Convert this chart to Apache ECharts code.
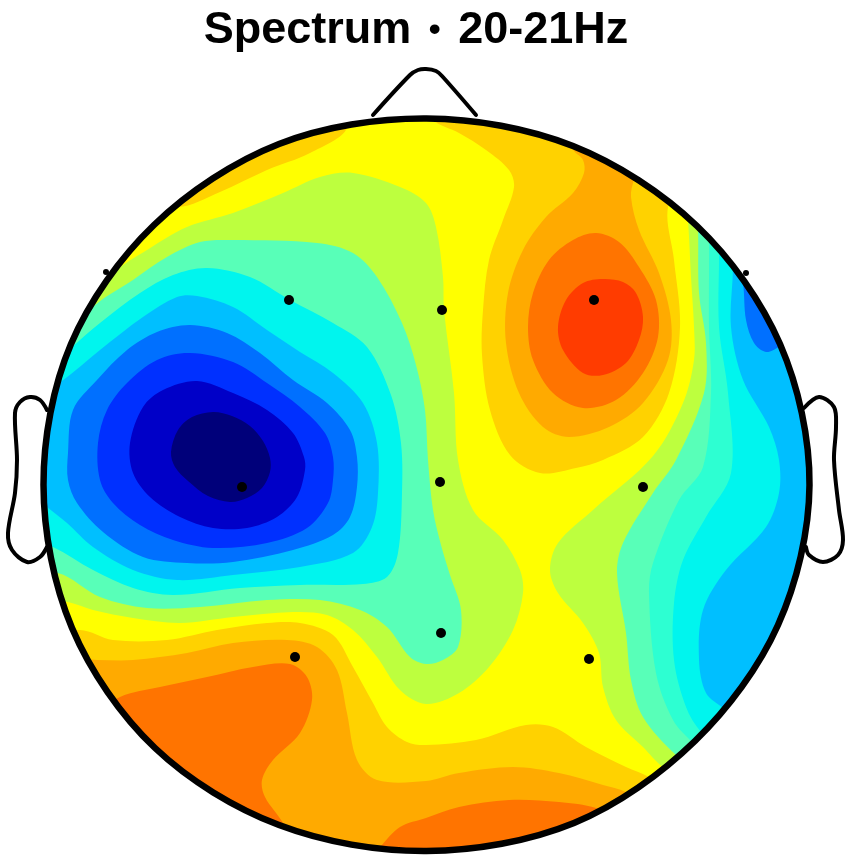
<!DOCTYPE html>
<html><head><meta charset="utf-8">
<style>html,body{margin:0;padding:0;background:#fff}#c{width:851px;height:864px}</style>
<script src="https://cdn.jsdelivr.net/npm/echarts@6/dist/echarts.min.js"></script>
</head><body><div id="c"></div>
<script>
const titleText = '{a|Spectrum }{b|•}{a| 20-21Hz}';
const headOutline = [[426.5,118.5],[573,146],[697,226],[780,344],[809.5,485],[778,625],[695,741],[574,823],[426.5,851],[279,825],[155,748],[72,628],[43.5,485],[71,344],[154,225],[279,144]];

const levelColors = {
  navy:'#00007a', deep:'#0000c8', royal:'#0030ff', azure:'#0070ff', sky:'#00bfff', cyan:'#00f5ee',
  turquoise:'#2dffd2', aqua:'#58ffb8', lime:'#bdff3e', yellow:'#ffff00', gold:'#ffd200', amber:'#ffaa00', orange:'#ff7400', red:'#ff3c00'
};

// contour outlines
const limeLeft = [[353,173],[320,177],[283,193],[233,213],[187,227],[147,250],[113,273],[70,320],[20,450],[40,600],[68,602],[93,610],[133,618],[180,623],[233,617],[293,612],[327,615],[353,630],[377,657],[400,690],[426,704],[459,693],[489,667],[513,630],[523,593],[520,570],[503,540],[473,510],[458,460],[454,393],[444,310],[443,277],[436,227],[426,203],[400,187]];
const limeRight = [[685,190],[688,220],[691,277],[694,327],[694,360],[683,403],[653,456],[593,510],[558,543],[550,570],[558,593],[583,623],[599,653],[603,687],[616,720],[643,747],[663,767],[720,800],[860,500],[800,200]];
const aquaLeft = [[233,240],[200,242],[167,257],[133,280],[90,310],[40,380],[30,580],[58,573],[100,597],[147,608],[200,607],[267,600],[320,600],[360,610],[387,627],[410,657],[426,664],[443,660],[458,647],[461,610],[450,575],[441,545],[433,510],[428,460],[425,410],[416,365],[402,323],[377,277],[353,253],[317,243]];
const aquaRight = [[696,200],[698,227],[699,293],[706,343],[704,393],[676,460],[653,493],[623,543],[617,573],[626,633],[631,680],[643,717],[676,755],[720,790],[860,500],[800,210]];
const turquoiseRight = [[708,210],[709,237],[709,327],[711,393],[703,467],[679,500],[653,563],[649,593],[656,673],[673,720],[693,743],[730,780],[860,500],[800,220]];
const cyanLeft = [[207,268],[173,275],[140,293],[100,323],[72,347],[35,380],[20,450],[30,540],[53,547],[93,570],[133,588],[173,595],[240,588],[300,585],[363,584],[387,577],[398,553],[402,493],[401,443],[391,395],[367,347],[333,323],[290,300],[250,277]];
const cyanRight = [[718,225],[719,253],[719,327],[728,393],[731,473],[706,517],[683,560],[674,603],[674,660],[686,707],[701,732],[740,770],[860,500],[800,240]];
const skyLeft = [[197,296],[177,297],[143,317],[100,350],[62,381],[30,400],[25,490],[47,507],[67,523],[93,547],[133,570],[177,580],[233,575],[300,567],[353,553],[372,527],[378,493],[377,443],[363,403],[333,373],[300,352],[267,330],[233,307]];
const skyRight = [[732,240],[733,268],[731,327],[743,380],[769,427],[779,460],[779,493],[766,527],[726,570],[703,610],[699,660],[706,693],[723,708],[760,740],[860,500],[800,260]];
const azureLeft = [[190,325],[157,332],[127,350],[97,380],[73,410],[68,453],[68,480],[77,503],[103,532],[143,557],[187,563],[233,562],[293,550],[333,535],[350,517],[357,487],[357,457],[350,430],[327,403],[293,380],[260,353],[227,333]];
const azureRight = [[738,265],[743,283],[746,320],[754,343],[766,352],[779,347],[800,335],[770,265]];
const royal = [[190,353],[157,360],[127,383],[107,410],[98,443],[100,480],[113,503],[140,525],[173,540],[213,548],[267,543],[307,528],[328,503],[333,480],[333,457],[325,433],[300,407],[267,383],[233,362]];
const deep = [[197,381],[163,390],[143,407],[130,443],[133,473],[150,497],[180,517],[213,528],[247,528],[277,517],[297,497],[305,470],[304,457],[293,433],[267,410],[233,393]];
const navy = [[171,452],[178,430],[192,417],[213,412],[232,416],[250,426],[263,441],[270,458],[270,472],[262,488],[247,498],[230,502],[208,496],[188,481],[175,467]];
const goldTopLeft = [[177,207],[220,192],[267,170],[310,153],[347,128],[330,100],[230,130],[150,190]];
const goldRight = [[433,120],[459,133],[486,150],[509,170],[514,187],[503,220],[489,260],[483,310],[482,355],[490,410],[510,455],[540,473],[576,468],[603,460],[643,437],[669,393],[680,327],[674,260],[668,207],[690,170],[600,100],[500,90],[425,100]];
const amberRight = [[573,148],[583,160],[584,173],[573,193],[546,217],[523,250],[508,293],[506,343],[519,393],[543,427],[569,437],[609,427],[643,403],[668,360],[671,320],[659,273],[639,230],[631,197],[634,180],[650,140],[590,120]];
const orangeRight = [[596,233],[573,240],[549,260],[533,293],[528,327],[533,360],[553,393],[583,408],[616,400],[643,373],[658,337],[656,300],[639,267],[619,242]];
const redRight = [[603,279],[583,283],[566,300],[558,327],[563,350],[583,373],[603,375],[626,363],[639,340],[643,317],[636,293],[623,282]];
const goldBottom = [[80,630],[113,640],[167,640],[217,630],[267,623],[300,623],[333,635],[353,667],[373,703],[387,727],[407,742],[426,745],[476,740],[526,725],[553,727],[586,747],[626,767],[649,777],[680,800],[600,890],[426,900],[150,830],[40,640]];
const amberBottom = [[97,660],[133,660],[187,653],[233,643],[287,640],[317,647],[337,670],[347,713],[357,760],[377,780],[426,781],[459,773],[513,767],[559,773],[603,785],[626,792],[660,810],[600,890],[400,900],[150,830],[70,660]];
const orangeLeft = [[120,697],[160,687],[207,677],[253,667],[290,664],[307,677],[312,700],[300,733],[273,760],[262,780],[265,797],[283,823],[300,860],[200,850],[90,720]];
const orangeBottom = [[380,847],[400,827],[426,818],[459,807],[509,800],[559,802],[596,808],[630,825],[560,880],[400,885],[360,870]];

const electrodes = [[289,300],[442,310],[594,300],[242,487],[440,482],[643,487],[441,633],[295,657],[589,659]];
const rimElectrodes = [[106,272],[746,273]];

const nose = [[373,115],[410,75],[418,70],[426,69],[436,71],[442,76],[476,115]];
const leftEar = [[47,410],[40,400],[30,397],[20,402],[15,413],[17,460],[15,493],[8,533],[12,550],[27,562],[40,557],[47,547]];
const rightEar = [[804,408],[819,397],[834,407],[836,427],[834,460],[839,510],[843,540],[838,555],[823,562],[809,555],[806,547]];

const bands = [
  ['lime',limeLeft],['lime',limeRight],['aqua',aquaLeft],['aqua',aquaRight],['turquoise',turquoiseRight],
  ['cyan',cyanLeft],['cyan',cyanRight],['sky',skyLeft],['sky',skyRight],['azure',azureLeft],['azure',azureRight],
  ['royal',royal],['deep',deep],['navy',navy],
  ['gold',goldTopLeft],['gold',goldRight],['amber',amberRight],['orange',orangeRight],['red',redRight],
  ['gold',goldBottom],['amber',amberBottom],['orange',orangeLeft],['orange',orangeBottom]
];
const outlines = [nose,leftEar,rightEar];

const chart = echarts.init(document.getElementById('c'), null, {renderer:'canvas'});
const SMOOTH = 0.33;
function headShape(api){
  return {points:headOutline.map(q=>api.coord(q)),smooth:SMOOTH};
}
const titleFont = {fontFamily:'Liberation Sans',fontWeight:'bold',color:'#000'};
chart.setOption({
  animation:false,
  backgroundColor:'#fff',
  title:{text:titleText,left:411,top:3,textAlign:'center',
    textStyle:{...titleFont,fontSize:45,rich:{
      a:{...titleFont,fontSize:45},
      b:{...titleFont,fontSize:34,padding:[0,5,0,5]}
    }}},
  grid:{left:0,right:0,top:0,bottom:0},
  xAxis:{type:'value',min:0,max:851,show:false},
  yAxis:{type:'value',min:0,max:864,inverse:true,show:false},
  series:[
    {type:'custom',coordinateSystem:'cartesian2d',silent:true,z:1,clip:false,
     data:[[0]],
     renderItem:(p,api)=>({type:'polygon',shape:headShape(api),style:{fill:levelColors.yellow}})},
    {type:'custom',coordinateSystem:'cartesian2d',silent:true,z:2,clip:false,
     data:bands.map((b,i)=>[i]),
     renderItem:(p,api)=>{
       const b = bands[api.value(0)];
       return {type:'polygon',
         shape:{points:b[1].map(q=>api.coord(q)),smooth:SMOOTH},
         style:{fill:levelColors[b[0]]},
         clipPath:{type:'polygon',shape:headShape(api)}};
     }},
    {type:'custom',coordinateSystem:'cartesian2d',silent:true,z:3,clip:false,
     data:outlines.map((b,i)=>[i]),
     renderItem:(p,api)=>({type:'polyline',
         shape:{points:outlines[api.value(0)].map(q=>api.coord(q)),smooth:SMOOTH},
         style:{fill:'none',stroke:'#000',lineWidth:4,lineCap:'round'}})},
    {type:'custom',coordinateSystem:'cartesian2d',silent:true,z:4,clip:false,
     data:[[0]],
     renderItem:(p,api)=>({type:'polygon',shape:headShape(api),style:{fill:'none',stroke:'#000',lineWidth:6.5}})},
    {type:'scatter',silent:true,z:5,symbol:'circle',symbolSize:10,itemStyle:{color:'#000',opacity:1},data:electrodes},
    {type:'scatter',silent:true,z:5,symbol:'circle',symbolSize:6,itemStyle:{color:'#000',opacity:1},data:rimElectrodes}
  ]
});
</script></body></html>
